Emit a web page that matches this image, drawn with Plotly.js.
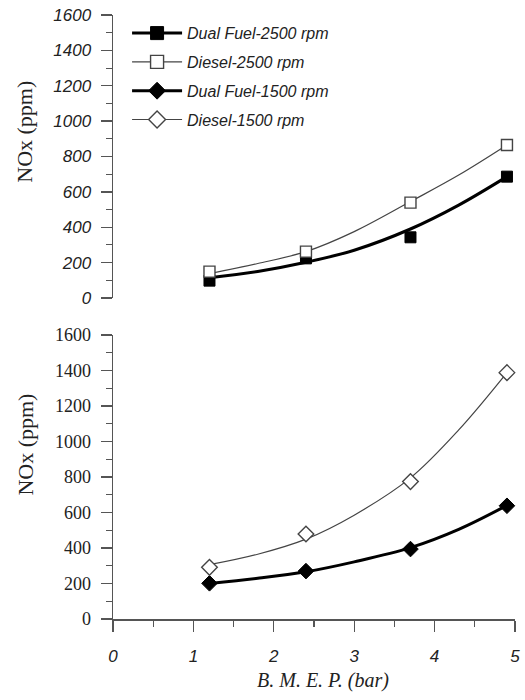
<!DOCTYPE html>
<html>
<head>
<meta charset="utf-8">
<script src="https://cdn.plot.ly/plotly-3.0.1.min.js"></script>
<style>html,body{margin:0;padding:0;background:#fff;}#chart{width:525px;height:700px;}</style>
</head>
<body>
<div id="chart"></div>
<script>
// B.M.E.P. (bar) of the measured points
var bmep = [1.2, 2.4, 3.7, 4.9];

// Measured NOx (ppm) - top panel (2500 rpm)
var dualFuel2500 = [98, 224, 343, 686];
var diesel2500 = [149, 262, 539, 865];

// Measured NOx (ppm) - bottom panel (1500 rpm)
var dualFuel1500 = [201, 270, 394, 638];
var diesel1500 = [291, 479, 774, 1388];

// Trend curves, values at these B.M.E.P. positions
var fitBmep = [1.2, 1.8, 2.4, 3.0, 3.7, 4.3, 4.9];
var dualFuel2500Fit = [115, 150, 202, 270, 390, 525, 686];
var diesel2500Fit = [138, 195, 262, 375, 545, 695, 865];
var dualFuel1500Fit = [200, 229, 266, 322, 402, 505, 640];
var diesel1500Fit = [306, 365, 450, 585, 795, 1065, 1388];

var seriesNames = ["Dual Fuel-2500 rpm", "Diesel-2500 rpm", "Dual Fuel-1500 rpm", "Diesel-1500 rpm"];
var yTicks = [0, 200, 400, 600, 800, 1000, 1200, 1400, 1600];
var xTicks = [0, 1, 2, 3, 4, 5];

var thick = {color: "#000", width: 3};
var thin = {color: "#444", width: 1.2};

function mk(sym, filled, sz) {
  return {symbol: sym, size: sz, color: filled ? "#000" : "#fff",
    line: {color: filled ? "#000" : "#444", width: filled ? 1 : 1.4}};
}
function markers(y, xa, ya, sym, filled, sz) {
  return {x: bmep, y: y, xaxis: xa, yaxis: ya, mode: "markers", showlegend: false, cliponaxis: false,
    marker: mk(sym, filled, sz), hoverinfo: "x+y"};
}
function fit(y, xa, ya, ln) {
  return {x: fitBmep, y: y, xaxis: xa, yaxis: ya, mode: "lines",
    line: Object.assign({shape: "spline", smoothing: 1}, ln), showlegend: false, hoverinfo: "skip"};
}
function legendItem(name, sym, filled, ln, group) {
  return {x: [null], y: [null], xaxis: "x", yaxis: "y", mode: "lines+markers", name: name, legendgroup: group,
    line: ln, marker: mk(sym, filled, 13)};
}

var data = [
  fit(dualFuel2500Fit, "x", "y", thick),
  fit(diesel2500Fit, "x", "y", thin),
  markers(dualFuel2500, "x", "y", "square", true, 11),
  markers(diesel2500, "x", "y", "square", false, 11),
  fit(dualFuel1500Fit, "x2", "y2", thick),
  fit(diesel1500Fit, "x2", "y2", thin),
  markers(dualFuel1500, "x2", "y2", "diamond", true, 12),
  markers(diesel1500, "x2", "y2", "diamond", false, 12),
  legendItem(seriesNames[0], "square", true, thick, "a"),
  legendItem(seriesNames[1], "square", false, thin, "b"),
  legendItem(seriesNames[2], "diamond", true, thick, "c"),
  legendItem(seriesNames[3], "diamond", false, thin, "d")
];

var sans = "Liberation Sans, Arial, sans-serif";
var serif = "Liberation Serif, Times New Roman, serif";

function yAxis(domain, anchor, tickFont) {
  return {domain: domain, anchor: anchor, range: [0, 1600], tickvals: yTicks, ticktext: yTicks.map(String),
    ticks: "outside", ticklen: 11, tickwidth: 1.3, tickcolor: "#555",
    minor: {dtick: 100, ticks: "outside", ticklen: 6, tickwidth: 1.1, tickcolor: "#555", showgrid: false},
    showline: true, linecolor: "#555", linewidth: 1.5, showgrid: false, zeroline: false,
    tickfont: tickFont, ticklabelstandoff: 6, fixedrange: true};
}

var layout = {
  width: 525, height: 700,
  margin: {l: 113, r: 10, t: 15, b: 81},
  paper_bgcolor: "#fff", plot_bgcolor: "#fff",
  showlegend: true,
  legend: {x: 0.035, y: 0.998, xanchor: "left", yanchor: "top", bgcolor: "rgba(0,0,0,0)",
    font: {family: sans, size: 16, color: "#222", style: "italic"},
    traceorder: "grouped", tracegroupgap: 5, itemwidth: 50},
  xaxis: {domain: [0, 1], anchor: "y", range: [0, 5], visible: false, fixedrange: true},
  yaxis: yAxis([0.5315, 1], "x", {family: sans, size: 17, color: "#222", style: "italic"}),
  xaxis2: {domain: [0, 1], anchor: "y2", range: [0, 5], tickvals: xTicks, ticktext: xTicks.map(String),
    ticks: "outside", ticklen: 11, tickwidth: 1.3, tickcolor: "#555",
    minor: {dtick: 0.5, ticks: "outside", ticklen: 6, tickwidth: 1.1, tickcolor: "#555", showgrid: false},
    showline: true, linecolor: "#555", linewidth: 1.5, showgrid: false, zeroline: false,
    tickfont: {family: sans, size: 17, color: "#222", style: "italic"}, ticklabelstandoff: 10, fixedrange: true},
  yaxis2: yAxis([0, 0.4702], "x2", {family: serif, size: 18, color: "#222"}),
  annotations: [
    {text: "NOx (ppm)", xref: "paper", yref: "paper", x: -0.22, y: 0.806, xanchor: "center", yanchor: "middle",
      showarrow: false, textangle: -90, font: {family: serif, size: 22, color: "#222"}},
    {text: "NOx (ppm)", xref: "paper", yref: "paper", x: -0.22, y: 0.288, xanchor: "center", yanchor: "middle",
      showarrow: false, textangle: -90, font: {family: serif, size: 22, color: "#222"}},
    {text: "B. M. E. P. (bar)", xref: "paper", yref: "paper", x: 0.5224, y: -0.101, xanchor: "center", yanchor: "middle",
      showarrow: false, font: {family: serif, size: 20, color: "#222", style: "italic"}}
  ]
};

Plotly.newPlot("chart", data, layout, {displayModeBar: false, staticPlot: true});
</script>
</body>
</html>
